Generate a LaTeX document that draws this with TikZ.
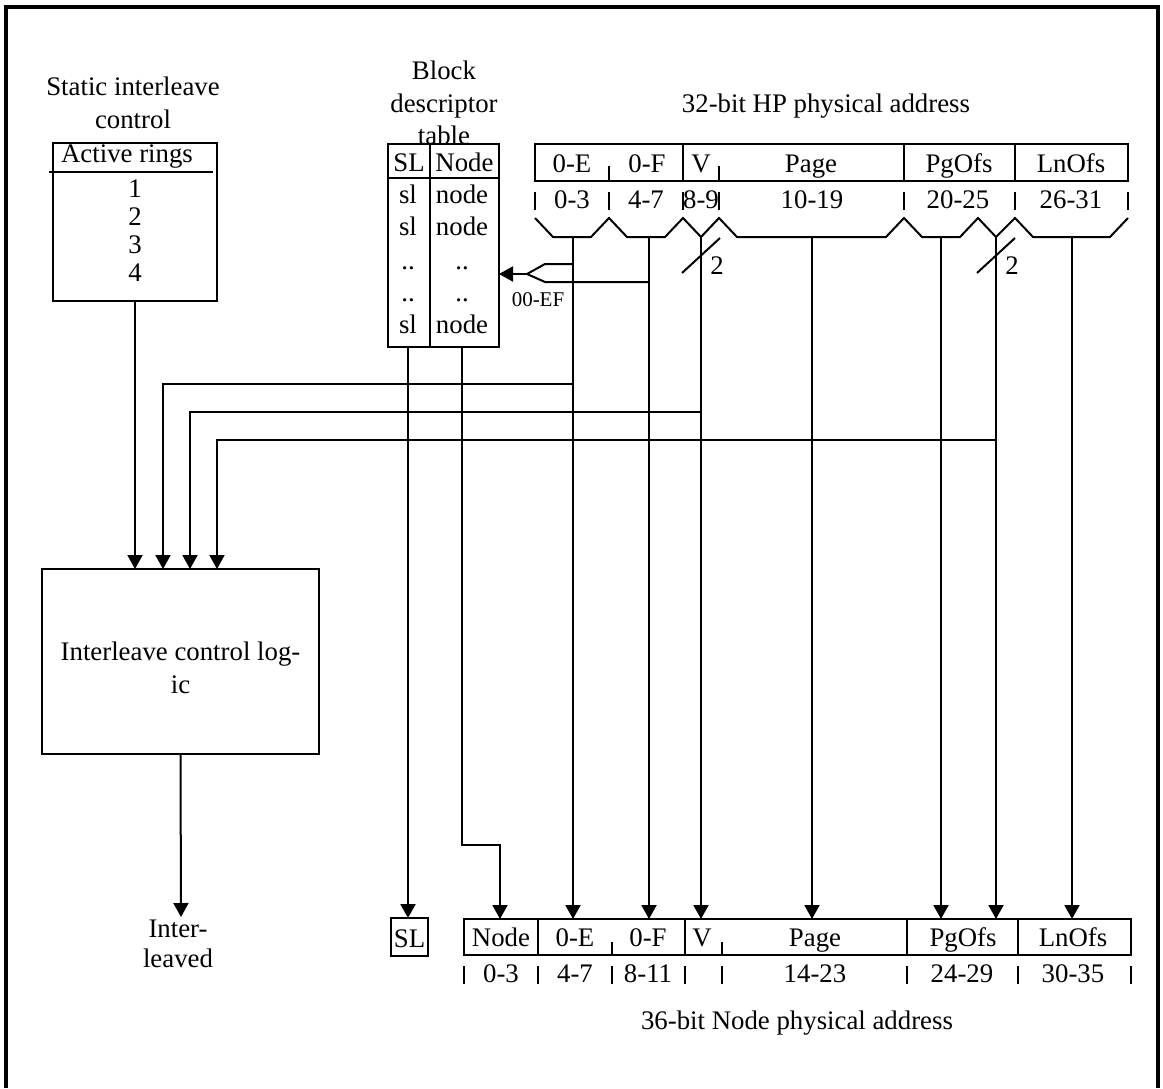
\documentclass[tikz,border=0pt]{standalone}
\usepackage{fontspec}
\setmainfont{Liberation Serif}
\usetikzlibrary{arrows.meta,fit}
\begin{document}
\begin{tikzpicture}[x=0.5pt,y=-0.5pt,
  every node/.style={inner sep=0pt,outer sep=0pt},
  txt/.style={font=\fontsize{13.4}{16}\selectfont,anchor=base},
  sml/.style={font=\fontsize{10.5}{12}\selectfont,anchor=base},
  ln/.style={line width=1pt},
  frm/.style={line width=1.7pt},
  arr/.style={ln,-{Triangle[length=7pt,width=7.5pt]}},
  boxfit/.style={draw,ln,inner sep=0pt,outer sep=0pt}
]
\useasboundingbox (0,0) rectangle (1163,1088);
\draw[frm] (6,1088) -- (6,7) -- (1158,7) -- (1158,1088);

% ---------- static interleave control ----------
\node[txt] (sic1) at (133,95) {Static interleave};
\node[txt] (sic2) at (133,128) {control};
\node[boxfit,fit={(53,143)(217,301)}] (ar) {};
\draw[ln] (49,172) -- (213,172);
\node[txt] (arh) at (127,162) {Active rings};
\node[txt] (ar1) at (135,197) {1};
\node[txt] (ar2) at (135,225) {2};
\node[txt] (ar3) at (135,253) {3};
\node[txt] (ar4) at (135,281) {4};

% ---------- interleave control logic ----------
\node[boxfit,fit={(42,569)(319,754)}] (icl) {};
\node[txt] (icl1) at (180.5,660) {Interleave control log-};
\node[txt] (icl2) at (180.5,693) {ic};
\coordinate (in1) at (163,569);
\coordinate (in2) at (190,569);
\coordinate (in3) at (217,569);
\draw[arr] (ar.south) -- (ar.south |- icl.north);
\coordinate (ilv) at (181,917);
\draw[arr] (icl.south) -- (ilv);
\node[txt] (ilv1) at (178,937) {Inter-};
\node[txt] (ilv2) at (178,967) {leaved};

% ---------- block descriptor table ----------
\node[txt] (bdt1) at (444,79) {Block};
\node[txt] (bdt2) at (444,112) {descriptor};
\node[txt] (bdt3) at (444,144) {table};
\node[boxfit,fit={(388,144)(499,347)}] (bdt) {};
\draw[ln] (388,178) -- (499,178);
\draw[ln] (430,144) -- (430,347);
\node[txt] (bh1) at (409,171) {SL};
\node[txt] (bh2) at (464.5,171) {Node};
\foreach \yy/\aa/\bb [count=\i] in {203/sl/node,235/sl/node,269/../..,301/../..,333/sl/node}{
  \node[txt] (bs\i) at (408,\yy) {\aa};
  \node[txt] (bn\i) at (462,\yy) {\bb};
}
\coordinate (slsrc) at (408,347);
\coordinate (ndsrc) at (462,347);

% ---------- 32-bit HP physical address ----------
\node[txt] (hpt) at (826,112) {32-bit HP physical address};
\node[boxfit,fit={(535,144)(1128,181)}] (top) {};
\foreach \xx in {683,904,1015} \draw[ln] (\xx,144) -- (\xx,181);
\foreach \xx in {609,719} \draw[ln] (\xx,166) -- (\xx,181);
\foreach \xx/\tt [count=\i] in {572/0-E,647/0-F,701/V,811/Page,959/PgOfs,1071/LnOfs}
  \node[txt] (tf\i) at (\xx,172) {\tt};
\foreach \xx in {535,609,683,719,904,1015,1128} \draw[ln] (\xx,192) -- (\xx,210);
\foreach \xx/\tt [count=\i] in {572/0-3,646/4-7,701/8-9,812/10-19,958/20-25,1071/26-31}
  \node[txt] (tb\i) at (\xx,208) {\tt};
% braces
\draw[ln] (535,218) -- (553,237) -- (591,237) -- (609,218) -- (627,237) -- (665,237)
  -- (683,218) -- (701,237) -- (719,218) -- (737,237) -- (886,237) -- (904,218)
  -- (922,237) -- (960,237) -- (978,218) -- (996,237) -- (1015,218) -- (1033,237)
  -- (1110,237) -- (1128,218);
\coordinate (v1) at (573,237);
\coordinate (v2) at (649,237);
\coordinate (v3) at (701,237);
\coordinate (v4) at (812,237);
\coordinate (v5) at (941,237);
\coordinate (v6) at (996,237);
\coordinate (v7) at (1072,237);
% bus width marks
\draw[ln] (682,273) -- (720,238);
\node[txt] (w1) at (717,274) {2};
\draw[ln] (977,273) -- (1015,238);
\node[txt] (w2) at (1012,274) {2};

% ---------- 36-bit node physical address ----------
\node[boxfit,fit={(464,919)(1131,955)}] (bot) {};
\foreach \xx in {538,685,907,1018} \draw[ln] (\xx,919) -- (\xx,955);
\foreach \xx in {612,722} \draw[ln] (\xx,942) -- (\xx,955);
\foreach \xx/\tt [count=\i] in {501/Node,575/0-E,648/0-F,702/V,815/Page,963/PgOfs,1073/LnOfs}
  \node[txt] (bf\i) at (\xx,946) {\tt};
\foreach \xx in {464,538,612,685,722,907,1018,1131} \draw[ln] (\xx,966) -- (\xx,984);
\foreach \xx/\tt [count=\i] in {501/0-3,575/4-7,648/8-11,815/14-23,962/24-29,1073/30-35}
  \node[txt] (bb\i) at (\xx,982) {\tt};
\node[txt] (npt) at (797,1029) {36-bit Node physical address};
\node[boxfit,fit={(391,918)(428,956)}] (slb) {};
\node[txt] (slt) at (409.5,947) {SL};

% ---------- connectors ----------
\draw[arr] (slsrc) -- (slsrc |- slb.north);
\coordinate (ndtgt) at (500,919);
\draw[arr] (ndsrc) -- (462,845) -| (ndtgt);
\foreach \k in {1,...,7} \draw[arr] (v\k) -- (v\k |- bot.north);

% to table (00-EF)
\coordinate (mrg) at (527,274);
\draw[ln] (573,264) -- (545,264) -- (mrg);
\draw[ln] (649,282) -- (545,282) -- (mrg);
\draw[arr] (mrg) -- (mrg -| bdt.east);
\node[sml] (oef) at (538,306) {00-EF};

% to interleave control logic
\coordinate (j1) at (573,384);
\coordinate (j2) at (701,412);
\coordinate (j3) at (996,440);
\draw[arr] (j1) -| (in1);
\draw[arr] (j2) -| (in2);
\draw[arr] (j3) -| (in3);
\end{tikzpicture}
\end{document}
